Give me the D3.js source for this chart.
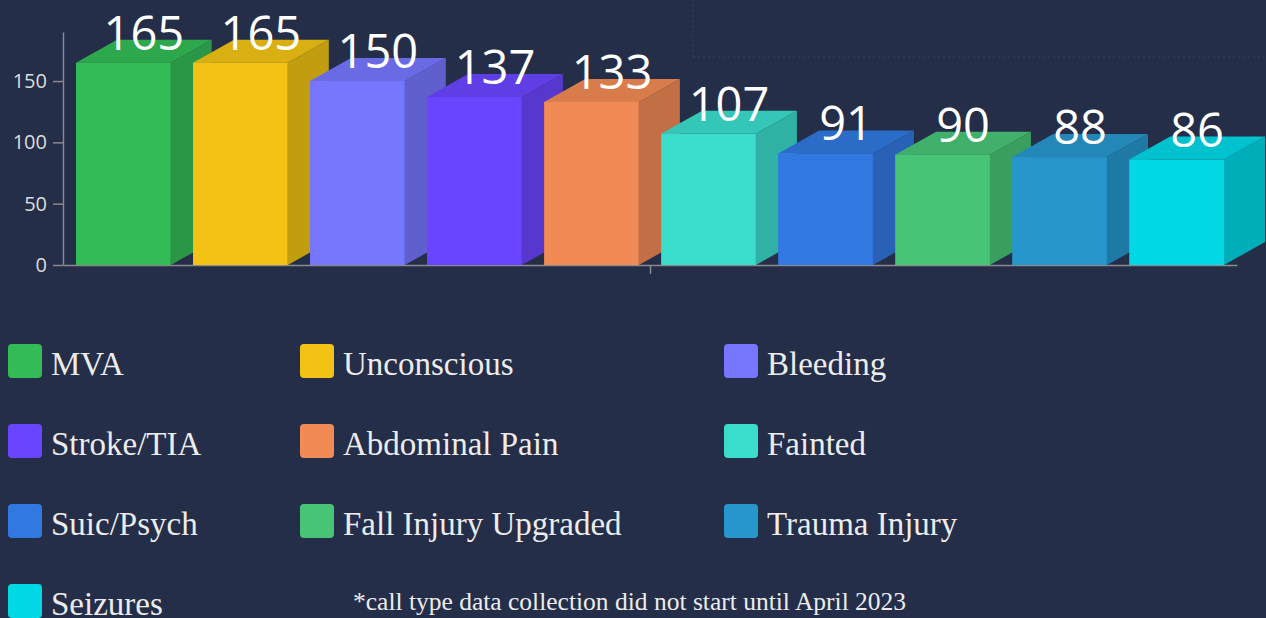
<!DOCTYPE html>
<html>
<head>
<meta charset="utf-8">
<script src="https://cdn.jsdelivr.net/npm/d3@7"></script>
<style>
  html, body { margin: 0; padding: 0; background: #252e48; }
  svg { display: block; }
</style>
</head>
<body>
<svg id="chart" width="1266" height="618"></svg>
<script>
const categories = ["MVA", "Unconscious", "Bleeding", "Stroke/TIA", "Abdominal Pain", "Fainted", "Suic/Psych", "Fall Injury Upgraded", "Trauma Injury", "Seizures"];
const values = [165, 165, 150, 137, 133, 107, 91, 90, 88, 86];
const colors = ["#33bb55", "#f2c314", "#7676ff", "#6a45ff", "#f28a55", "#3adccb", "#3178e0", "#48c476", "#2796cc", "#00d8e6"];
const yTicks = [0, 50, 100, 150];
const yMax = 190;
const footnote = "*call type data collection did not start until April 2023";

const W = 1266, H = 618;
const svg = d3.select("#chart");
svg.append("rect").attr("width", W).attr("height", H).attr("fill", "#252e48");

// faint dotted frame lines in background
const grid = svg.append("g").attr("stroke", "rgba(255,255,255,0.08)").attr("stroke-dasharray", "2,3").attr("stroke-width", 1);
grid.append("line").attr("x1", 693).attr("x2", 693).attr("y1", 0).attr("y2", 57);
grid.append("line").attr("x1", 693).attr("x2", W).attr("y1", 57).attr("y2", 57);

const x = d3.scaleBand().domain(categories).range([63, 1237]).paddingInner(0.19).paddingOuter(0.111);
const y = d3.scaleLinear().domain([0, yMax]).range([265, 32]);
const dx = 41, dy = 23;

const data = categories.map((c, i) => ({ cat: c, val: values[i], col: colors[i] }));

// axes
const yAxis = svg.append("g").attr("transform", "translate(63,0)")
  .call(d3.axisLeft(y).tickValues(yTicks).tickSize(10).tickSizeOuter(0).tickPadding(6));
yAxis.select(".domain").attr("stroke", "#8a8a8a").attr("stroke-width", 1.5);
yAxis.selectAll(".tick line").attr("stroke", "#8a8a8a").attr("stroke-width", 1.5);
yAxis.selectAll(".tick text").attr("fill", "#dcdcdc").style("font-family", "'Open Sans', sans-serif").style("font-size", "20px");

const xl = d3.scaleLinear().domain([0, 1]).range([63, 1237]);
const xAxis = svg.append("g").attr("transform", "translate(0,265)")
  .call(d3.axisBottom(xl).tickValues([0.5]).tickFormat("").tickSize(9).tickSizeOuter(0));
xAxis.select(".domain").attr("stroke", "#8a8a8a").attr("stroke-width", 1.5);
xAxis.selectAll(".tick line").attr("stroke", "#8a8a8a").attr("stroke-width", 1.5);

// 3D bars
const bars = svg.append("g");
data.forEach(d => {
  const x0 = x(d.cat), w = x.bandwidth();
  const yt = y(d.val), yb = y(0);
  const g = bars.append("g");
  const c = d3.color(d.col);
  // side
  g.append("path")
    .attr("d", `M${x0 + w},${yt} L${x0 + w + dx},${yt - dy} L${x0 + w + dx},${yb - dy} L${x0 + w},${yb} Z`)
    .attr("fill", c.darker(0.6));
  // top
  g.append("path")
    .attr("d", `M${x0},${yt} L${x0 + dx},${yt - dy} L${x0 + w + dx},${yt - dy} L${x0 + w},${yt} Z`)
    .attr("fill", c.darker(0.3));
  // front
  g.append("rect").attr("x", x0).attr("y", yt).attr("width", w).attr("height", yb - yt).attr("fill", d.col);
});

// value labels
svg.append("g").selectAll("text").data(data).join("text")
  .attr("x", d => x(d.cat) + (x.bandwidth() + dx) / 2)
  .attr("y", d => y(d.val) - 13)
  .attr("text-anchor", "middle")
  .attr("fill", "#ffffff")
  .style("font-family", "'Open Sans', sans-serif")
  .style("font-size", "47px")
  .text(d => d.val);

// legend
const colX = [8, 300, 724];
const rowY = [344, 424, 504, 584];
const leg = svg.append("g").selectAll("g").data(data).join("g")
  .attr("transform", (d, i) => `translate(${colX[i % 3]},${rowY[Math.floor(i / 3)]})`);
leg.append("rect").attr("width", 34).attr("height", 34).attr("rx", 4).attr("fill", d => d.col);
leg.append("text").attr("x", 43).attr("y", 31)
  .attr("fill", "#ececec")
  .style("font-family", "'Liberation Serif', 'Times New Roman', serif")
  .style("font-size", "33px")
  .text(d => d.cat);

svg.append("text").attr("x", 353).attr("y", 610)
  .attr("fill", "#ececec")
  .style("font-family", "'Liberation Serif', 'Times New Roman', serif")
  .style("font-size", "25.5px")
  .text(footnote);
</script>
</body>
</html>
